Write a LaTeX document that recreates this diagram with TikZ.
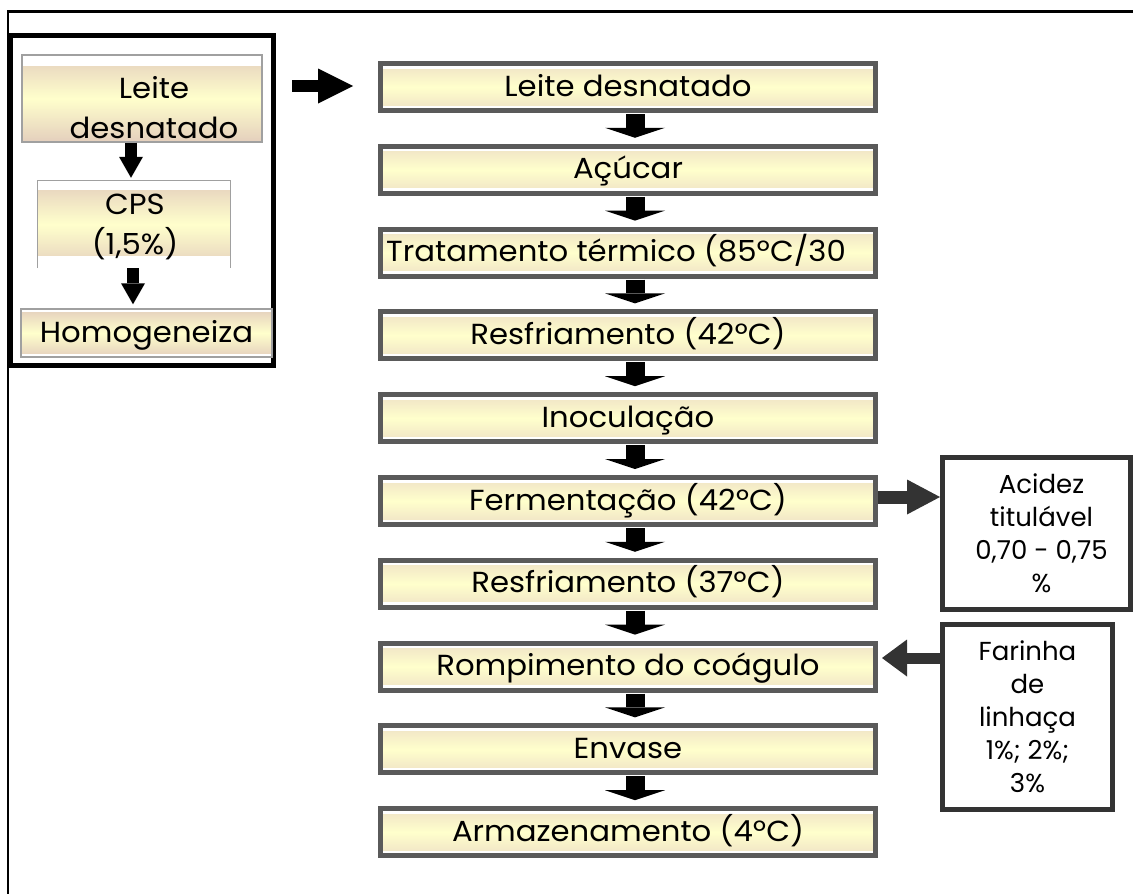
\documentclass[tikz,border=0pt]{standalone}
\usepackage{fontspec}
\setmainfont{Poppins}
\newfontfamily\wideface[FakeStretch=1.06]{Poppins}
\usetikzlibrary{arrows.meta}
\definecolor{bordmain}{HTML}{5A5A5A}
\definecolor{borddark}{HTML}{333333}
\definecolor{bordlight}{HTML}{A0A0A0}
\definecolor{yel}{HTML}{FFFFCC}
\definecolor{tanm}{HTML}{EFE2C6}
\definecolor{tanl}{HTML}{E4CFBD}
\tikzset{
  mainbox/.style={draw=bordmain, line width=5pt, minimum width=495pt, minimum height=47pt,
    inner sep=0pt, text height=22pt, text depth=4pt, font=\wideface\fontsize{29}{34}\selectfont,
    path picture={\shade[top color=tanm, bottom color=tanm, middle color=yel]
      ([yshift=5.5pt]path picture bounding box.south west) rectangle
      ([yshift=-5.5pt]path picture bounding box.north east);}},
  sidebox/.style={draw=borddark, line width=5pt, inner sep=0pt, align=center,
    font=\fontsize{26}{33}\selectfont},
  lefttext/.style={inner sep=0pt, align=center, font=\wideface\fontsize{29}{40}\selectfont},
  downarr/.style={black, line width=19pt, -{Triangle[width=60pt, length=10pt, line width=0pt]}},
  smallarr/.style={black, line width=12pt, -{Triangle[width=24pt, length=21pt, line width=0pt]}},
  sidearr/.style={borddark, line width=13pt, -{Triangle[width=35pt, length=33pt, line width=0pt]}},
}
\begin{document}
\begin{tikzpicture}[x=1pt, y=-1pt]
\useasboundingbox (0,0) rectangle (1133,894);
\fill[white] (0,0) rectangle (1133,894);
% outer frame
\draw[black, line width=2.5pt] (1133,11.5) -- (8,11.5) -- (8,894);
% left group
\node[draw=black, line width=5pt, minimum width=263pt, minimum height=330pt, inner sep=0pt] (leftbox) at (142,200.5) {};
% left sub-boxes
\node[draw=bordlight, line width=1.2pt, minimum width=240pt, minimum height=87pt, inner sep=0pt,
  path picture={\shade[top color=tanl, bottom color=tanl, middle color=yel]
    (path picture bounding box.south west) rectangle ([yshift=-11pt]path picture bounding box.north east);}] (ld) at (142,98.5) {};
\node[lefttext] (ldtxt) at (154,108) {Leite\\desnatado};
\node[minimum width=192pt, minimum height=87pt, inner sep=0pt,
  path picture={\shade[top color=tanl, bottom color=tanl, middle color=yel]
    ([yshift=13pt]path picture bounding box.south west) rectangle ([yshift=-9pt]path picture bounding box.north east);}] (cps) at (134,224.5) {};
\draw[bordlight, line width=1.2pt] (cps.south west) -- (cps.north west) -- (cps.north east) -- (cps.south east);
\node[lefttext] (cpstxt) at (135,227) {CPS\\(1,5\%)};
\node[draw=bordlight, line width=1.5pt, minimum width=251pt, minimum height=48pt, inner sep=0pt,
  text height=22pt, text depth=4pt, font=\wideface\fontsize{29}{34}\selectfont,
  path picture={\shade[top color=tanl, bottom color=tanl, middle color=yel]
    ([yshift=4pt]path picture bounding box.south west) rectangle ([yshift=-3pt]path picture bounding box.north east);}] (hom) at (146.5,333) {Homogeneiza};
\draw[smallarr] ([xshift=-11pt]ld.south) -- ([xshift=-11pt, yshift=3pt]ld.south |- cps.north);
\draw[smallarr] ([xshift=-1pt]cps.south) -- ([xshift=-1pt, yshift=4pt]cps.south |- hom.north);
% main column
\node[mainbox] (m1) at (628,87) {Leite desnatado};
\node[mainbox] (m2) at (628,169.8) {Açúcar};
\node[mainbox] (m3) at (628,252.6) {Tratamento térmico (85ºC/30\hspace*{24pt}};
\node[mainbox] (m4) at (628,335.4) {Resfriamento (42ºC)};
\node[mainbox] (m5) at (628,418.2) {Inoculação};
\node[mainbox] (m6) at (628,501) {Fermentação (42ºC)};
\node[mainbox] (m7) at (628,583.8) {Resfriamento (37ºC)};
\node[mainbox] (m8) at (628,666.6) {Rompimento do coágulo};
\node[mainbox] (m9) at (628,749.4) {Envase};
\node[mainbox] (m10) at (628,832.2) {Armazenamento (4ºC)};
\foreach \a/\b in {m1/m2,m2/m3,m3/m4,m4/m5,m5/m6,m6/m7,m7/m8,m8/m9,m9/m10}{
  \draw[downarr] ([xshift=7pt, yshift=-1pt]\a.south) -- ([xshift=7pt, yshift=6pt]\b.north);
}
% arrow from left group to main column
\draw[black, line width=12pt, -{Triangle[width=35pt, length=35pt, line width=0pt]}]
  ([xshift=16pt, yshift=1pt]leftbox.east |- m1.west) -- ([xshift=-25pt, yshift=1pt]m1.west);
% side boxes
\node[sidebox, minimum width=188pt, minimum height=152pt] (acid) at (1036.5,533.5)
  {\hspace*{10pt}Acidez\\\hspace*{10pt}titulável\\\hspace*{10pt}0,70 - 0,75\\\hspace*{10pt}\%};
\node[sidebox, minimum width=170pt, minimum height=185pt] (far) at (1027.5,717)
  {Farinha\\de\\linhaça\\1\%; 2\%;\\3\%};
\draw[sidearr] ([yshift=4pt]m6.east) -- ([yshift=4pt]m6.east -| acid.west);
\draw[borddark, line width=11pt, -{Triangle[width=37pt, length=25pt, line width=0pt]}]
  ([yshift=59pt]far.west) -- ([xshift=4pt, yshift=59pt]far.west -| m8.east);
\end{tikzpicture}
\end{document}
